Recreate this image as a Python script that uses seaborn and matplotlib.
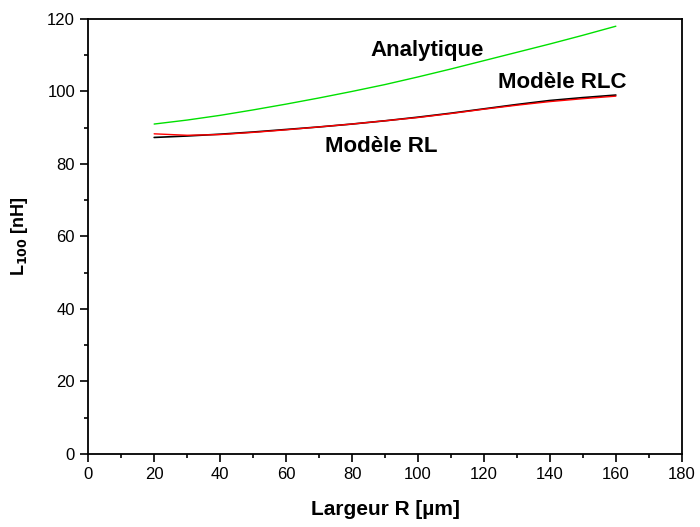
import numpy as np
import pandas as pd
import matplotlib
matplotlib.use("Agg")
import matplotlib.pyplot as plt
import seaborn as sns
from matplotlib.ticker import MultipleLocator

# values
largeur = [20, 30, 40, 50, 60, 70, 80, 90, 100, 110, 120, 130, 140, 150, 160]
analytique = [91.0, 92.1, 93.4, 94.9, 96.5, 98.2, 100.0, 101.9, 104.0, 106.2, 108.5, 110.8, 113.1, 115.5, 118.0]
modele_rl = [87.3, 87.7, 88.2, 88.8, 89.5, 90.2, 91.0, 91.9, 92.9, 94.0, 95.2, 96.4, 97.5, 98.3, 99.0]
modele_rlc = [88.3, 87.9, 88.1, 88.7, 89.4, 90.2, 91.0, 91.9, 92.8, 93.9, 95.1, 96.2, 97.2, 98.0, 98.7]

df = pd.DataFrame({"x": largeur, "ana": analytique, "rl": modele_rl, "rlc": modele_rlc})

sns.set_style("ticks", {"text.color": "black", "axes.labelcolor": "black",
                        "xtick.color": "black", "ytick.color": "black",
                        "axes.edgecolor": "black"})
plt.rcParams["font.family"] = ["Liberation Sans", "DejaVu Sans"]

fig, ax = plt.subplots(figsize=(7, 5.27), dpi=100)
sns.lineplot(data=df, x="x", y="ana", color="#00e000", lw=1, ax=ax)
sns.lineplot(data=df, x="x", y="rl", color="black", lw=1.2, ax=ax)
sns.lineplot(data=df, x="x", y="rlc", color="red", lw=1, ax=ax)

ax.text(102.7, 111.4, "Analytique", fontsize=16, fontweight="bold", ha="center", va="center")
ax.text(143.6, 102.6, "Modèle RLC", fontsize=16, fontweight="bold", ha="center", va="center")
ax.text(89, 84.7, "Modèle RL", fontsize=16, fontweight="bold", ha="center", va="center")

ax.set_xlim(0, 180)
ax.set_ylim(0, 120)
ax.xaxis.set_major_locator(MultipleLocator(20))
ax.xaxis.set_minor_locator(MultipleLocator(10))
ax.yaxis.set_major_locator(MultipleLocator(20))
ax.yaxis.set_minor_locator(MultipleLocator(10))
ax.tick_params(which="major", length=6, width=1.2, labelsize=12, direction="out")
ax.tick_params(which="minor", length=3, width=1.2, direction="out")
for s in ax.spines.values():
    s.set_linewidth(1.3)
    s.set_visible(True)

ax.set_xlabel("Largeur R [µm]", fontsize=15, fontweight="bold", labelpad=13)
ax.set_ylabel("L$_{\\mathbf{100}}$ [nH]", fontsize=13, fontweight="bold", labelpad=12)

fig.subplots_adjust(left=0.126, right=0.974, top=0.964, bottom=0.139)
fig.savefig("out.png", dpi=100)
